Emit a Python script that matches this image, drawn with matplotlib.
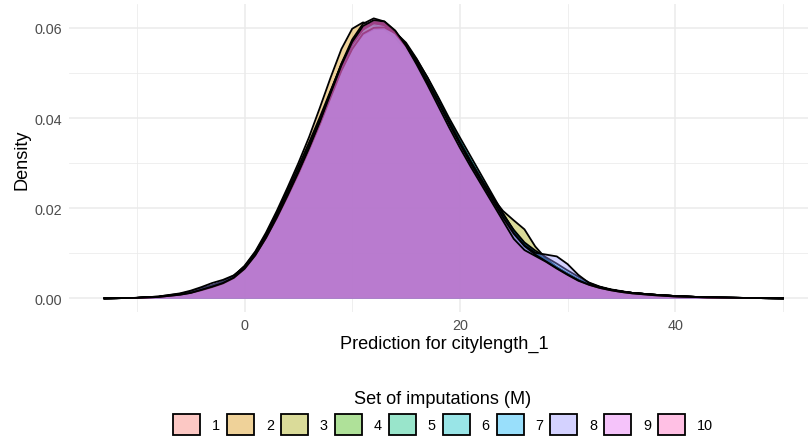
#!/usr/bin/env python
""" Overlaid density curves of predictions for each set of imputations """

import matplotlib
matplotlib.use('Agg')
import matplotlib.pyplot as plt
from matplotlib.colors import to_rgba
from matplotlib.patches import Patch

matplotlib.rcParams.update({'font.family': ['Liberation Sans', 'DejaVu Sans']})

# density values, common grid of x
x = [-13, -10, -8, -6, -5, -4, -3, -2, -1, 0,
     1, 2, 3, 4, 5, 6, 7, 8, 9, 10,
     11, 12, 13, 14, 15, 16, 17, 18, 19, 20,
     21, 22, 23, 24, 25, 26, 27, 28, 29, 30,
     31, 32, 33, 34, 35, 36, 38, 40, 43, 46, 50]

d1 = [0.0000, 0.0001, 0.0003, 0.0009, 0.0014, 0.0021, 0.0028, 0.0035, 0.0046, 0.0066,
      0.0096, 0.0135, 0.0180, 0.0229, 0.0281, 0.0336, 0.0395, 0.0456, 0.0515, 0.0562,
      0.0595, 0.0609, 0.0607, 0.0590, 0.0562, 0.0526, 0.0485, 0.0440, 0.0393, 0.0347,
      0.0303, 0.0262, 0.0221, 0.0181, 0.0146, 0.0119, 0.0099, 0.0083, 0.0067, 0.0053,
      0.0041, 0.0031, 0.0024, 0.0019, 0.0015, 0.0012, 0.0008, 0.0005, 0.0002, 0.0001, 0.0000]
d2 = [0.0000, 0.0001, 0.0004, 0.0010, 0.0015, 0.0022, 0.0029, 0.0037, 0.0050, 0.0072,
      0.0104, 0.0146, 0.0194, 0.0246, 0.0300, 0.0358, 0.0423, 0.0490, 0.0553, 0.0598,
      0.0612, 0.0607, 0.0596, 0.0578, 0.0550, 0.0514, 0.0473, 0.0429, 0.0384, 0.0340,
      0.0298, 0.0258, 0.0219, 0.0180, 0.0144, 0.0116, 0.0097, 0.0082, 0.0067, 0.0053,
      0.0040, 0.0030, 0.0023, 0.0018, 0.0014, 0.0011, 0.0007, 0.0004, 0.0002, 0.0001, 0.0000]
d3 = [0.0000, 0.0001, 0.0003, 0.0008, 0.0012, 0.0019, 0.0027, 0.0035, 0.0047, 0.0067,
      0.0097, 0.0136, 0.0181, 0.0230, 0.0281, 0.0335, 0.0392, 0.0454, 0.0514, 0.0564,
      0.0598, 0.0613, 0.0610, 0.0590, 0.0559, 0.0520, 0.0477, 0.0431, 0.0385, 0.0341,
      0.0300, 0.0262, 0.0224, 0.0194, 0.0173, 0.0153, 0.0115, 0.0088, 0.0069, 0.0055,
      0.0042, 0.0032, 0.0025, 0.0019, 0.0015, 0.0012, 0.0008, 0.0005, 0.0002, 0.0001, 0.0000]
d4 = [0.0000, 0.0001, 0.0003, 0.0008, 0.0013, 0.0020, 0.0027, 0.0035, 0.0047, 0.0068,
      0.0099, 0.0139, 0.0184, 0.0233, 0.0284, 0.0338, 0.0396, 0.0458, 0.0519, 0.0568,
      0.0600, 0.0612, 0.0606, 0.0588, 0.0560, 0.0524, 0.0483, 0.0438, 0.0392, 0.0347,
      0.0304, 0.0263, 0.0223, 0.0184, 0.0149, 0.0121, 0.0101, 0.0085, 0.0069, 0.0054,
      0.0041, 0.0031, 0.0024, 0.0019, 0.0015, 0.0012, 0.0008, 0.0005, 0.0002, 0.0001, 0.0000]
d5 = [0.0000, 0.0001, 0.0003, 0.0008, 0.0012, 0.0018, 0.0026, 0.0034, 0.0046, 0.0066,
      0.0096, 0.0134, 0.0178, 0.0226, 0.0277, 0.0331, 0.0388, 0.0449, 0.0508, 0.0555,
      0.0585, 0.0597, 0.0598, 0.0590, 0.0567, 0.0531, 0.0489, 0.0443, 0.0395, 0.0349,
      0.0306, 0.0265, 0.0225, 0.0186, 0.0150, 0.0121, 0.0100, 0.0084, 0.0069, 0.0055,
      0.0042, 0.0032, 0.0025, 0.0019, 0.0015, 0.0012, 0.0008, 0.0005, 0.0002, 0.0001, 0.0000]
d6 = [0.0000, 0.0001, 0.0003, 0.0008, 0.0013, 0.0020, 0.0028, 0.0037, 0.0050, 0.0071,
      0.0102, 0.0142, 0.0189, 0.0240, 0.0292, 0.0346, 0.0402, 0.0461, 0.0519, 0.0565,
      0.0597, 0.0611, 0.0607, 0.0590, 0.0564, 0.0529, 0.0490, 0.0446, 0.0400, 0.0357,
      0.0315, 0.0273, 0.0231, 0.0189, 0.0150, 0.0120, 0.0100, 0.0084, 0.0068, 0.0054,
      0.0041, 0.0031, 0.0024, 0.0019, 0.0015, 0.0012, 0.0008, 0.0005, 0.0002, 0.0001, 0.0000]
d7 = [0.0000, 0.0001, 0.0003, 0.0009, 0.0014, 0.0021, 0.0029, 0.0037, 0.0049, 0.0069,
      0.0099, 0.0138, 0.0183, 0.0232, 0.0283, 0.0337, 0.0394, 0.0455, 0.0514, 0.0563,
      0.0596, 0.0610, 0.0606, 0.0587, 0.0558, 0.0521, 0.0480, 0.0436, 0.0391, 0.0346,
      0.0304, 0.0264, 0.0225, 0.0187, 0.0152, 0.0124, 0.0106, 0.0091, 0.0077, 0.0062,
      0.0048, 0.0035, 0.0026, 0.0020, 0.0016, 0.0012, 0.0008, 0.0005, 0.0002, 0.0001, 0.0000]
d8 = [0.0000, 0.0001, 0.0004, 0.0011, 0.0017, 0.0025, 0.0034, 0.0041, 0.0051, 0.0069,
      0.0097, 0.0134, 0.0178, 0.0226, 0.0276, 0.0330, 0.0386, 0.0446, 0.0505, 0.0553,
      0.0587, 0.0600, 0.0601, 0.0588, 0.0560, 0.0523, 0.0481, 0.0436, 0.0390, 0.0344,
      0.0300, 0.0258, 0.0217, 0.0178, 0.0143, 0.0117, 0.0101, 0.0097, 0.0093, 0.0076,
      0.0052, 0.0034, 0.0025, 0.0019, 0.0015, 0.0012, 0.0008, 0.0005, 0.0002, 0.0001, 0.0000]
d9 = [0.0000, 0.0001, 0.0003, 0.0008, 0.0012, 0.0018, 0.0025, 0.0033, 0.0045, 0.0065,
      0.0095, 0.0134, 0.0179, 0.0228, 0.0280, 0.0335, 0.0394, 0.0458, 0.0521, 0.0574,
      0.0609, 0.0621, 0.0614, 0.0592, 0.0561, 0.0522, 0.0479, 0.0434, 0.0387, 0.0342,
      0.0299, 0.0259, 0.0219, 0.0180, 0.0144, 0.0116, 0.0097, 0.0082, 0.0067, 0.0053,
      0.0040, 0.0030, 0.0023, 0.0018, 0.0014, 0.0011, 0.0007, 0.0004, 0.0002, 0.0001, 0.0000]
d10 = [0.0000, 0.0001, 0.0003, 0.0008, 0.0012, 0.0019, 0.0026, 0.0034, 0.0046, 0.0066,
       0.0096, 0.0135, 0.0180, 0.0229, 0.0280, 0.0334, 0.0392, 0.0455, 0.0517, 0.0569,
       0.0604, 0.0617, 0.0614, 0.0594, 0.0560, 0.0518, 0.0473, 0.0426, 0.0379, 0.0334,
       0.0292, 0.0252, 0.0212, 0.0172, 0.0132, 0.0107, 0.0094, 0.0081, 0.0066, 0.0052,
       0.0039, 0.0030, 0.0023, 0.0018, 0.0014, 0.0011, 0.0007, 0.0004, 0.0002, 0.0001, 0.0000]

densities = [d1, d2, d3, d4, d5, d6, d7, d8, d9, d10]
labels = ['1', '2', '3', '4', '5', '6', '7', '8', '9', '10']
colors = ['#F8766D', '#D89000', '#A3A500', '#39B600', '#00BF7D',
          '#00BFC4', '#00B0F6', '#9590FF', '#E76BF3', '#FF62BC']

W, H = 808, 439
fig = plt.figure(figsize=(W / 100, H / 100), dpi=100)
ax = fig.add_axes([69 / W, (H - 313.3) / H, 751.6 / W, 307.9 / H])

for i, (d, c) in enumerate(zip(densities, colors)):
    ax.fill_between(x, d, 0, color=c, alpha=0.4, lw=0, zorder=3 + 2 * i)
    ax.plot(x, d, color='black', lw=1.3, zorder=4 + 2 * i)

ax.set_xlim(-16.3, 53.5)
ax.set_ylim(-0.0031, 0.0652)
ax.set_xticks([0, 20, 40])
ax.set_xticks([-10, 10, 30, 50], minor=True)
ax.set_yticks([0, 0.02, 0.04, 0.06])
ax.set_yticks([0.01, 0.03, 0.05], minor=True)
ax.set_yticklabels(['0.00', '0.02', '0.04', '0.06'])
ax.grid(True, which='major', color='#EBEBEB', lw=1.1, zorder=0)
ax.grid(True, which='minor', color='#EBEBEB', lw=0.55, zorder=0)
ax.set_axisbelow(True)
for s in ax.spines.values():
    s.set_visible(False)
ax.tick_params(which='both', length=0, labelsize=10.4, labelcolor='#4D4D4D')
ax.tick_params(axis='y', pad=5)
ax.tick_params(axis='x', pad=4)
ax.set_xlabel('Prediction for citylength_1', fontsize=13.1, labelpad=2)
ax.set_ylabel('Density', fontsize=13.1, labelpad=3)

handles = [Patch(facecolor=to_rgba(c, 0.4), edgecolor='black', lw=1.3) for c in colors]
fig.legend(handles, labels, loc='lower center', bbox_to_anchor=(443 / W, 0.0),
           ncol=10, frameon=False, fontsize=10.4, title='Set of imputations (M)',
           title_fontsize=13.1, handlelength=1.875, handleheight=1.875,
           handletextpad=0.8, columnspacing=0.5, borderpad=0.2, borderaxespad=0)

plt.savefig('out.png', dpi=100)
